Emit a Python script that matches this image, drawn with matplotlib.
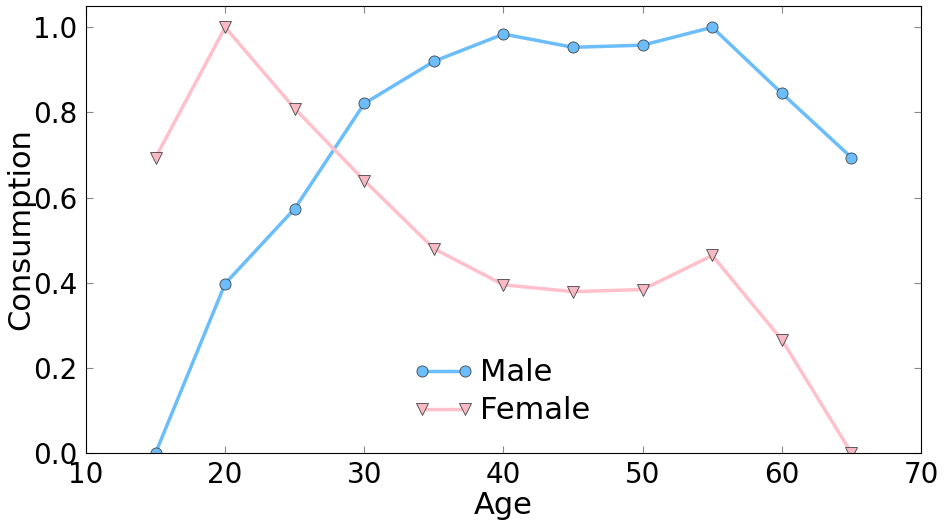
import numpy as np
import matplotlib
matplotlib.use("Agg")
import matplotlib.pyplot as plt

ages = [15, 20, 25, 30, 35, 40, 45, 50, 55, 60, 65]
male = [0.0, 0.398, 0.574, 0.821, 0.920, 0.984, 0.953, 0.958, 1.0, 0.845, 0.694]
female = [0.694, 1.0, 0.809, 0.640, 0.480, 0.395, 0.379, 0.384, 0.464, 0.266, 0.0]

fig = plt.figure(figsize=(9.45, 5.22), dpi=100)
ax = fig.add_axes([0.091, 0.1322, 0.8836, 0.8563])

ax.plot(ages, male, color='#6bbdfb', lw=2.5, marker='o', markersize=8,
        markerfacecolor='#6bbdfb', markeredgecolor='#444444', markeredgewidth=0.6,
        label='Male')
ax.plot(ages, female, color='#ffc0cb', lw=2.5, marker='v', markersize=9,
        markerfacecolor='#f8b8c4', markeredgecolor='#444444', markeredgewidth=0.6,
        label='Female')

ax.set_xlim(10, 70)
ax.set_ylim(0, 1.05)
ax.set_xticks(np.arange(10, 71, 10))
ax.set_yticks(np.arange(0, 1.01, 0.2))
ax.tick_params(direction='in', top=True, right=True, labelsize=20, length=5,
               color='#888888', pad=6)
ax.set_xlabel('Age', fontsize=22)
ax.set_ylabel('Consumption', fontsize=22)
ax.xaxis.set_label_coords(0.5, -0.084)
ax.yaxis.set_label_coords(-0.061, 0.5)

ax.legend(loc='lower center', bbox_to_anchor=(0.498, 0.0), frameon=False,
          fontsize=22, numpoints=2, handlelength=2, handletextpad=0.2,
          labelspacing=0.3)

fig.savefig('out.png', dpi=100)
